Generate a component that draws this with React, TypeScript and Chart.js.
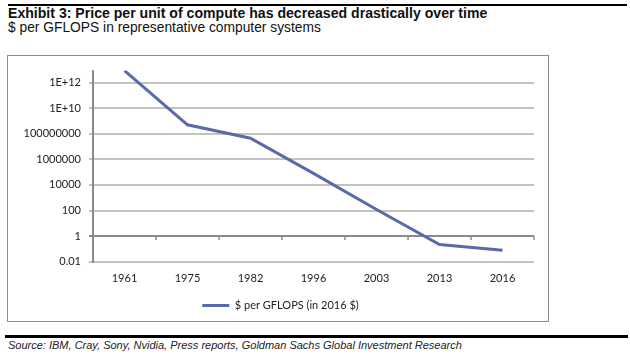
import React, { useEffect, useRef } from 'react';
import { Chart, registerables } from 'chart.js';

Chart.register(...registerables);

const years = ['1961', '1975', '1982', '1996', '2003', '2013', '2016'];
const pricePerGflops = [8.5e12, 5e8, 4.5e7, 8e4, 120, 0.22, 0.077];
const yTickValues = [0.01, 1, 100, 1e4, 1e6, 1e8, 1e10, 1e12];
const yTickLabels = ['0.01', '1', '100', '10000', '1000000', '100000000', '1E+10', '1E+12'];
const seriesLabel = '$ per GFLOPS (in 2016 $)';
const yMin = 0.01;
const yMax = 8.6e12;
const crossValue = 1;

const lineColor = '#5a6aa8';
const axisColor = '#8a8a8a';
const gridColor = '#c2c2c2';
const textColor = '#222222';
const tickFont = { family: 'Lato, "Open Sans", sans-serif', size: 11 };

const crossAxisTicks = {
  id: 'crossAxisTicks',
  beforeDatasetsDraw(chart: any) {
    const { ctx, scales } = chart;
    const x = scales.x;
    const y = scales.y;
    const yp = y.getPixelForValue(crossValue);
    ctx.save();
    ctx.strokeStyle = axisColor;
    ctx.lineWidth = 1.5;
    for (let i = 0; i <= years.length; i++) {
      const xp = x.getPixelForValue(i - 0.5);
      ctx.beginPath();
      ctx.moveTo(xp, yp);
      ctx.lineTo(xp, yp + 4);
      ctx.stroke();
    }
    ctx.restore();
  },
};

function ChartBox() {
  const ref = useRef<HTMLCanvasElement | null>(null);
  useEffect(() => {
    if (!ref.current) return;
    const chart = new Chart(ref.current, {
      type: 'line',
      data: {
        labels: years,
        datasets: [
          {
            label: seriesLabel,
            data: pricePerGflops,
            borderColor: lineColor,
            backgroundColor: lineColor,
            borderWidth: 3,
            pointRadius: 0,
            tension: 0,
            yAxisID: 'y',
          },
        ],
      },
      options: {
        animation: false,
        responsive: false,
        maintainAspectRatio: false,
        layout: { padding: { top: 13, right: 0, bottom: 0, left: 5 } },
        plugins: {
          tooltip: { enabled: false },
          legend: {
            position: 'bottom',
            labels: {
              font: tickFont,
              color: textColor,
              boxWidth: 27,
              boxHeight: 3,
              padding: 10,
              generateLabels: (c: any) =>
                (Chart as any).defaults.plugins.legend.labels
                  .generateLabels(c)
                  .map((l: any) => ({ ...l, lineWidth: 0, fillStyle: lineColor, strokeStyle: lineColor })),
            },
          },
        },
        scales: {
          x: {
            type: 'category',
            offset: true,
            grid: { display: false, drawTicks: false },
            border: { display: false },
            ticks: { font: tickFont, color: textColor, padding: 10.6, maxRotation: 0, autoSkip: false },
            afterFit: (s: any) => {
              s.height = 28.3;
            },
          },
          y: {
            type: 'logarithmic',
            position: 'left',
            min: yMin,
            max: yMax,
            afterBuildTicks: (s: any) => {
              s.ticks = yTickValues.map((v) => ({ value: v }));
            },
            afterFit: (s: any) => {
              s.width = 80;
            },
            grid: {
              color: (c: any) => (c.tick && c.tick.value === crossValue ? axisColor : gridColor),
              lineWidth: 2,
              tickLength: 4,
            },
            border: { display: true, color: axisColor, width: 2 },
            ticks: {
              font: tickFont,
              color: textColor,
              padding: 8,
              callback: (_v: any, i: number) => yTickLabels[i],
            },
          },
          spacer: {
            type: 'linear',
            position: 'right',
            display: true,
            grid: { display: false, drawTicks: false },
            border: { display: false },
            ticks: { display: false },
            afterFit: (s: any) => {
              s.width = 14;
            },
          },
        },
      },
      plugins: [crossAxisTicks],
    } as any);
    return () => chart.destroy();
  }, []);
  return <canvas ref={ref} width={540} height={265} style={{ display: 'block', width: 540, height: 265 }} />;
}

export default function App() {
  return (
    <div style={{ position: 'fixed', left: 0, top: 0, width: 630, height: 355, background: '#fff', overflow: 'hidden' }}>
      <div style={{ position: 'absolute', left: 8, top: 4, width: 619, height: 1.5, background: '#000' }} />
      <div
        style={{
          position: 'absolute',
          left: 8,
          top: 6.4,
          font: 'bold 14.1px "Liberation Sans", Arial, sans-serif',
          lineHeight: '14.1px',
          color: '#111',
          whiteSpace: 'nowrap',
        }}
      >
        Exhibit 3: Price per unit of compute has decreased drastically over time
      </div>
      <div
        style={{
          position: 'absolute',
          left: 8,
          top: 20.5,
          font: '13.8px "Liberation Sans", Arial, sans-serif',
          lineHeight: '13.8px',
          color: '#111',
          whiteSpace: 'nowrap',
        }}
      >
        $ per GFLOPS in representative computer systems
      </div>
      <div
        style={{
          position: 'absolute',
          left: 7,
          top: 55,
          width: 540,
          height: 265,
          border: '1px solid #8c8c8c',
        }}
      >
        <ChartBox />
      </div>
      <div style={{ position: 'absolute', left: 5, top: 335, width: 623, height: 3, background: '#000' }} />
      <div
        style={{
          position: 'absolute',
          left: 8,
          top: 339.7,
          font: 'italic 11px "Liberation Sans", Arial, sans-serif',
          lineHeight: '11px',
          color: '#222',
          whiteSpace: 'nowrap',
        }}
      >
        Source: IBM, Cray, Sony, Nvidia, Press reports, Goldman Sachs Global Investment Research
      </div>
    </div>
  );
}
